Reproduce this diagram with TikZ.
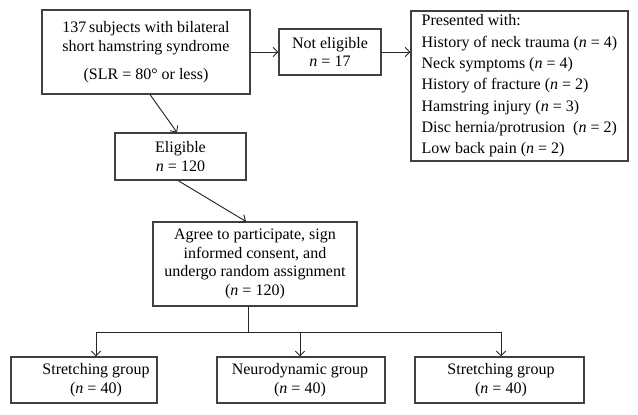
\documentclass[tikz,border=0pt]{standalone}
\usepackage{fontspec}
\setmainfont{Liberation Serif}
\usetikzlibrary{arrows.meta}
\begin{document}
\begin{tikzpicture}[x=0.75pt,y=-0.75pt,
  box/.style={draw=black!75,line width=0.8pt,inner sep=0pt,align=center,font=\fontsize{12}{14}\selectfont},
  lbl/.style={align=center,font=\fontsize{12}{14}\selectfont},
  arr/.style={draw=black!85,line width=0.7pt,-{Straight Barb[length=3.5pt,width=7pt]}}]
\useasboundingbox (0,0) rectangle (638,414);
\node[box,minimum width=156pt,minimum height=63pt] (start) at (146,52) {137\,subjects with bilateral\\short hamstring syndrome\\[7pt](SLR = 80° or less)};
\node[box,minimum width=76.5pt,minimum height=34.5pt] (noelig) at (330,52) {Not eligible\\\textit{n} = 17};
\node[box,align=left,minimum width=162.75pt,minimum height=112.5pt,font=\fontsize{12}{16}\selectfont] (reasons) at (519.5,86) {Presented with:\\History of neck trauma (\textit{n} = 4)\\Neck symptoms (\textit{n} = 4)\\History of fracture (\textit{n} = 2)\\Hamstring injury (\textit{n} = 3)\\Disc hernia/protrusion~ (\textit{n} = 2)\\Low back pain (\textit{n} = 2)};
\node[box,minimum width=98.25pt,minimum height=35.25pt] (elig) at (180.5,156.5) {Eligible\\\textit{n} = 120};
\node[box,minimum width=153pt,minimum height=63pt] (agree) at (255,264) {Agree to participate, sign\\informed consent, and\\undergo random assignment\\(\textit{n} = 120)};
\node[box,minimum width=109.5pt,minimum height=34.5pt] (grpA) at (84,380) {};
\node[box,minimum width=126pt,minimum height=34.5pt] (grpB) at (301,380) {};
\node[box,minimum width=126.75pt,minimum height=34.5pt] (grpC) at (499.5,380) {};
\node[lbl] (grpAtext) at (96,380) {Stretching group\\(\textit{n} = 40)};
\node[lbl] (grpBtext) at (300,380) {Neurodynamic group\\(\textit{n} = 40)};
\node[lbl] (grpCtext) at (501,380) {Stretching group\\(\textit{n} = 40)};
\coordinate (split) at (248,332);
\draw[arr] (start) -- (noelig);
\draw[arr] (noelig) -- (reasons.west |- noelig.east);
\draw[arr] ([xshift=3pt]start.south) -- ([xshift=-2.6pt]elig.north);
\draw[arr] ([xshift=-1.9pt]elig.south) -- ([xshift=-6.75pt]agree.north);
\draw[draw=black!85,line width=0.7pt] (agree.south -| split) -- (split);
\draw[arr] (split) -| (grpAtext |- grpA.north);
\draw[arr] (split) -| (grpBtext |- grpB.north);
\draw[arr] (split) -| (grpCtext |- grpC.north);
\end{tikzpicture}
\end{document}
